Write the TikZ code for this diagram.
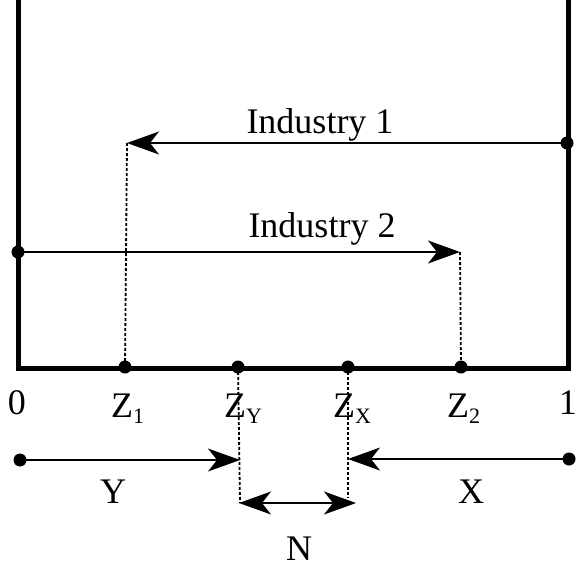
\documentclass[tikz,border=0pt]{standalone}
\usepackage{fontspec}
\setmainfont{Liberation Serif}
\usetikzlibrary{arrows.meta}
\newcommand{\zsub}[1]{Z\raisebox{-6pt}{\fontsize{22}{22}\selectfont #1}}
\begin{document}
\begin{tikzpicture}[x=1pt,y=-1pt,
  dot/.style={circle,fill=black,inner sep=0pt,minimum size=13pt},
  arr/.style={line width=1.3pt,-{Stealth[length=32pt,width=23pt,inset=9pt]}},
  dbl/.style={line width=1.3pt,{Stealth[length=32pt,width=23pt,inset=9pt]}-{Stealth[length=32pt,width=23pt,inset=9pt]}},
  dotline/.style={line width=1.8pt,dash pattern=on 3pt off 2pt},
  frame/.style={line width=5pt},
  big/.style={font=\fontsize{36}{40}\selectfont,inner sep=0pt}]
\useasboundingbox (0,0) rectangle (577,570);
% frame
\draw[frame] (18,0) -- (18,368) -- (568,368) -- (568,0);
% dots
\node[dot] (d1) at (567,143) {};
\node[dot] (d2) at (18,252) {};
\node[dot] (z1) at (125,367) {};
\node[dot] (zy) at (238,367) {};
\node[dot] (zx) at (348,367) {};
\node[dot] (z2) at (461,367) {};
\node[dot] (ya) at (20,460) {};
\node[dot] (xa) at (569,459) {};
% coordinates
\coordinate (t1) at (127,143);
\coordinate (t2) at (460,252);
\coordinate (ty) at (240,460);
\coordinate (tx) at (348,459);
\coordinate (nl) at (239,503);
\coordinate (nr) at (356,503);
\coordinate (zyb) at (240,503);
\coordinate (zxb) at (348,498);
% industry arrows
\draw[arr] (d1.center) -- (t1);
\draw[arr] (d2.center) -- (t2);
\draw[dotline] (t1) -- (z1.center);
\draw[dotline] (t2) -- (z2.center);
% Y, X, N
\draw[dotline] (zy.center) -- (zyb);
\draw[dotline] (zx.center) -- (zxb);
\draw[arr] (ya.center) -- (ty);
\draw[arr] (xa.center) -- (tx);
\draw[dbl] (nl) -- (nr);
% labels
\node[big,anchor=base] (l1) at (320,133) {Industry 1};
\node[big,anchor=base] (l2) at (322,237) {Industry 2};
\node[big,anchor=base] (n0) at (17,414) {0};
\node[big,anchor=base east] (n1) at (577,414) {1};
\node[big,anchor=base west] (lz1) at (111,417) {\zsub{1}};
\node[big,anchor=base west] (lzy) at (224,417) {\zsub{Y}};
\node[big,anchor=base west] (lzx) at (333,417) {\zsub{X}};
\node[big,anchor=base west] (lz2) at (447,417) {\zsub{2}};
\node[big,anchor=base] (ly) at (113,503) {Y};
\node[big,anchor=base] (lx) at (471,503) {X};
\node[big,anchor=base] (ln) at (299,560) {N};
\end{tikzpicture}
\end{document}
